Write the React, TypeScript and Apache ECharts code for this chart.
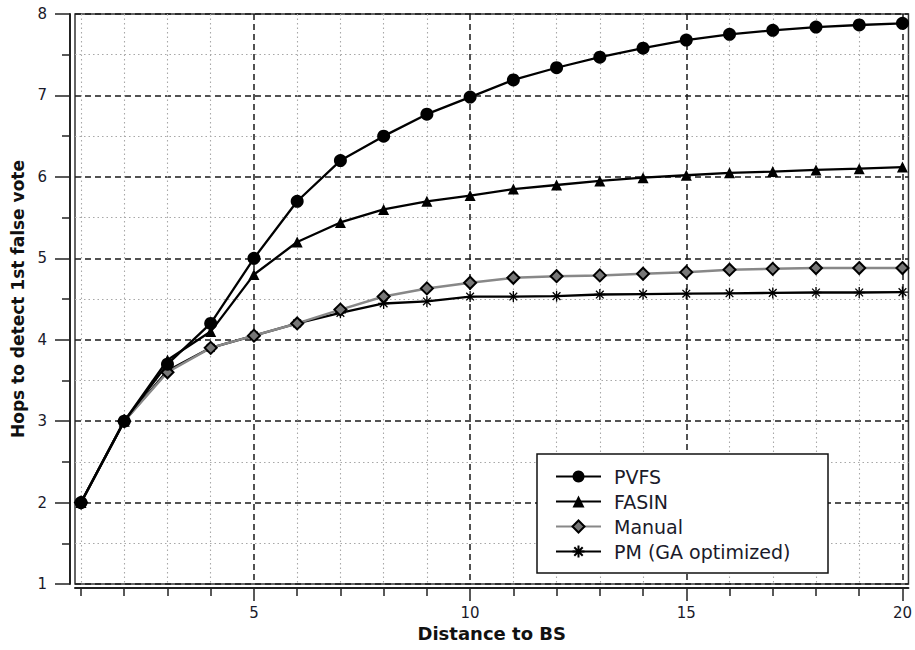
import React, { useEffect, useRef } from "react";
import * as echarts from "echarts";

const DIST = [1, 2, 3, 4, 5, 6, 7, 8, 9, 10, 11, 12, 13, 14, 15, 16, 17, 18, 19, 20];
const PVFS = [2, 3, 3.7, 4.2, 5.0, 5.7, 6.2, 6.5, 6.77, 6.98, 7.19, 7.34, 7.47, 7.58, 7.68, 7.75, 7.8, 7.84, 7.865, 7.885];
const FASIN = [2, 3, 3.75, 4.1, 4.8, 5.2, 5.44, 5.6, 5.7, 5.77, 5.85, 5.9, 5.95, 5.99, 6.02, 6.05, 6.065, 6.085, 6.1, 6.12];
const MANUAL = [2, 3, 3.6, 3.9, 4.05, 4.2, 4.37, 4.53, 4.63, 4.7, 4.76, 4.78, 4.79, 4.81, 4.83, 4.86, 4.87, 4.88, 4.88, 4.88];
const PM = [2, 3, 3.62, 3.9, 4.05, 4.2, 4.33, 4.445, 4.47, 4.53, 4.53, 4.535, 4.555, 4.56, 4.565, 4.57, 4.575, 4.58, 4.58, 4.585];

const X_MAJOR = [5, 10, 15, 20];
const X_MINOR = [1, 2, 3, 4, 6, 7, 8, 9, 11, 12, 13, 14, 16, 17, 18, 19];
const SERIES_NAMES = ["PVFS", "FASIN", "Manual", "PM (GA optimized)"];

const FONT = "DejaVu Sans";
const ASTERISK = "path://M5,0L5,10M0,5L10,5M1.5,1.5L8.5,8.5M8.5,1.5L1.5,8.5";

const pairs = (ys: number[]) => DIST.map((x, i) => [x, ys[i]]);

export default function App() {
  const ref = useRef<HTMLDivElement>(null);
  useEffect(() => {
    if (!ref.current) return;
    const chart = echarts.init(ref.current, undefined, { renderer: "svg" });
    const dashed = { show: true, lineStyle: { color: "#1a1a1a", type: [6, 4], width: 1.5 } };
    const dotted = { show: true, lineStyle: { color: "#a8a8a8", type: [1.5, 3], width: 1.1 } };
    chart.setOption({
      animation: false,
      backgroundColor: "#fff",
      grid: {
        left: 75,
        right: 6,
        top: 14,
        bottom: 66,
        show: true,
        borderColor: "#333",
        borderWidth: 1.5,
        backgroundColor: "transparent",
      },
      xAxis: [
        {
          type: "value",
          min: 0.861,
          max: 20.139,
          position: "bottom",
          offset: 4,
          name: "Distance to BS",
          nameLocation: "middle",
          nameGap: 36,
          nameTextStyle: { fontFamily: FONT, fontWeight: "bold", fontSize: 18, color: "#111" },
          axisLine: { show: true, onZero: false, lineStyle: { color: "#222", width: 2 } },
          axisTick: { show: true, customValues: X_MAJOR, length: 13, lineStyle: { color: "#222", width: 1.5 } },
          axisLabel: { customValues: X_MAJOR, margin: 17, fontFamily: FONT, fontSize: 15, color: "#1a1a2a" },
          splitLine: dashed,
        },
        {
          type: "value",
          min: 0.861,
          max: 20.139,
          position: "bottom",
          offset: 4,
          axisLine: { show: false, onZero: false },
          axisTick: { show: true, customValues: X_MINOR, length: 8, lineStyle: { color: "#222", width: 1.5 } },
          axisLabel: { show: false, customValues: X_MINOR },
          splitLine: dotted,
        },
      ],
      yAxis: {
        type: "value",
        min: 1,
        max: 8,
        interval: 1,
        offset: 5,
        name: "Hops to detect 1st false vote",
        nameLocation: "middle",
        nameGap: 37,
        nameTextStyle: { fontFamily: FONT, fontWeight: "bold", fontSize: 17, color: "#111" },
        axisLine: { show: true, onZero: false, lineStyle: { color: "#222", width: 2 } },
        axisTick: { show: true, length: 15, lineStyle: { color: "#222", width: 1.5 } },
        minorTick: { show: true, splitNumber: 2, length: 8, lineStyle: { color: "#222", width: 1.5 } },
        axisLabel: { margin: 23, fontFamily: FONT, fontSize: 15, color: "#1a1a2a" },
        splitLine: dashed,
        minorSplitLine: dotted,
      },
      legend: {
        orient: "vertical",
        left: 537,
        top: 454,
        padding: [13, 21, 12, 18],
        itemGap: 6,
        itemWidth: 45,
        itemHeight: 15,
        borderColor: "#111",
        borderWidth: 1.5,
        borderRadius: 0,
        backgroundColor: "#fff",
        data: SERIES_NAMES,
        textStyle: { fontFamily: FONT, fontSize: 19, lineHeight: 19, color: "#1a1a2a", padding: [0, 0, 0, 8], width: 193 },
      },
      series: [
        {
          name: SERIES_NAMES[0],
          type: "line",
          data: pairs(PVFS),
          symbol: "circle",
          symbolSize: 13,
          itemStyle: { color: "#000" },
          lineStyle: { color: "#000", width: 2.3 },
          z: 5,
        },
        {
          name: SERIES_NAMES[1],
          type: "line",
          data: pairs(FASIN),
          symbol: "triangle",
          symbolSize: 11,
          itemStyle: { color: "#000" },
          lineStyle: { color: "#000", width: 2.3 },
          z: 5,
        },
        {
          name: SERIES_NAMES[3],
          type: "line",
          data: pairs(PM),
          symbol: ASTERISK,
          symbolSize: 11,
          itemStyle: { color: "#000", borderColor: "#000", borderWidth: 1.3 },
          lineStyle: { color: "#000", width: 2.3 },
          z: 4,
        },
        {
          name: SERIES_NAMES[2],
          type: "line",
          data: pairs(MANUAL),
          symbol: "diamond",
          symbolSize: 12,
          itemStyle: { color: "#777", borderColor: "#000", borderWidth: 2 },
          lineStyle: { color: "#888", width: 2.5 },
          z: 4,
        },
      ],
    });
    return () => chart.dispose();
  }, []);
  return (
    <div
      ref={ref}
      style={{ position: "fixed", left: 0, top: 0, width: 915, height: 650, background: "#fff" }}
    />
  );
}
